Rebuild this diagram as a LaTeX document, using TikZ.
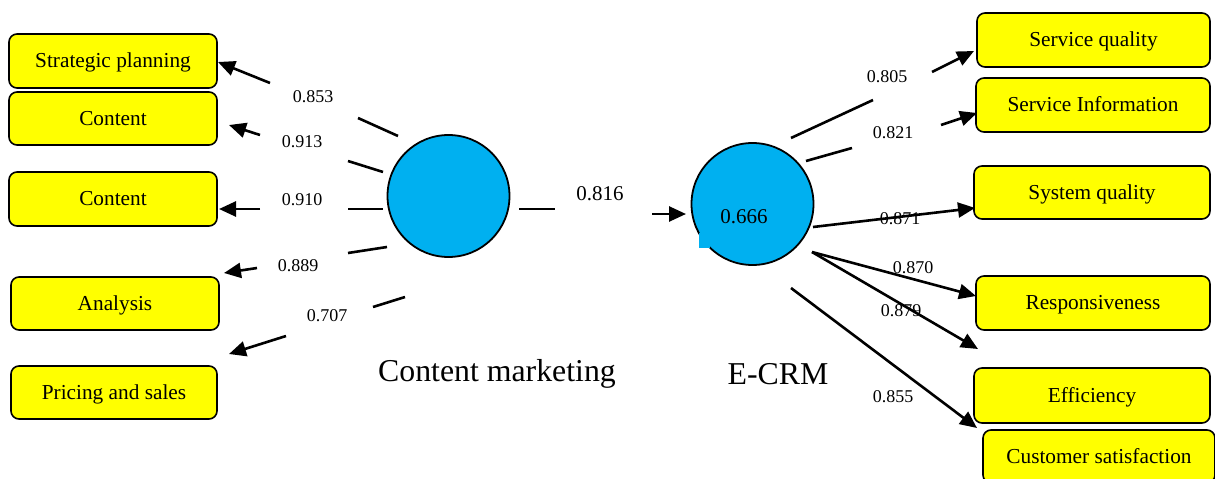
\documentclass[tikz,border=0pt]{standalone}
\usepackage{fontspec}
\setmainfont{Liberation Serif}
\usetikzlibrary{arrows.meta}
\definecolor{boxyellow}{RGB}{255,255,0}
\definecolor{circblue}{RGB}{0,176,240}
\begin{document}
\begin{tikzpicture}[x=1pt,y=-1pt,
 box/.style={draw=black, line width=1.6pt, fill=boxyellow, rounded corners=8pt, inner sep=0pt, text height=14.5pt, text depth=1pt, font=\fontsize{21.3}{25}\selectfont},
 lv/.style={circle, draw=black, line width=1.8pt, fill=circblue, inner sep=0pt, minimum size=122pt},
 wt/.style={font=\fontsize{18}{22}\selectfont, inner sep=0pt},
 midwt/.style={font=\fontsize{21}{25}\selectfont, inner sep=0pt},
 big/.style={font=\fontsize{31.8}{36}\selectfont, inner sep=0pt},
 ln/.style={line width=2.6pt},
 arr/.style={line width=2.6pt, -{Triangle[length=17pt,width=15pt]}}]
\clip (0,0) rectangle (1215,479);
\fill[white] (0,0) rectangle (1215,479);

% left boxes
\node[box, minimum width=208pt, minimum height=54pt] (sp) at (113,61) {Strategic planning};
\node[box, minimum width=208pt, minimum height=53pt] (c1) at (113,118.5) {Content};
\node[box, minimum width=208pt, minimum height=54pt] (c2) at (113,199) {Content};
\node[box, minimum width=208pt, minimum height=53pt] (an) at (115,303.5) {Analysis};
\node[box, minimum width=206pt, minimum height=53pt] (ps) at (114,392.5) {Pricing and sales};

% right boxes
\node[box, minimum width=233pt, minimum height=54pt] (sq) at (1093.5,40) {Service quality};
\node[box, minimum width=234pt, minimum height=54pt] (si) at (1093,105) {Service Information};
\node[box, minimum width=236pt, minimum height=53pt] (sys) at (1092,192.5) {System quality};
\node[box, minimum width=234pt, minimum height=54pt] (resp) at (1093,303) {Responsiveness};
\node[box, minimum width=236pt, minimum height=55pt] (eff) at (1092,395.5) {Efficiency};
\node[box, minimum width=232pt, minimum height=53pt] (cs) at (1099,456.5) {Customer satisfaction};

% latent variables
\node[lv] (cm) at (448.5,196) {};
\node[lv] (ecrm) at (752.5,204) {};
\fill[circblue] (699,233) rectangle (710,248);
\node[midwt] (r2) at (744,217) {0.666};
\node[big] (cmlab) at (497,374) {Content marketing};
\node[big] (ecrmlab) at (778,374) {E-CRM};

% structural path
\coordinate (p1a) at (519,209);
\coordinate (p1b) at (555,209);
\coordinate (p2a) at (652,214);
\coordinate (p2b) at (686,214);
\draw[ln] (p1a) -- (p1b);
\draw[arr] (p2a) -- (p2b);
\node[midwt] (w816) at (600,194) {0.816};

% left loadings
\coordinate (a1s) at (398,136); \coordinate (a1m) at (358,118);
\coordinate (a1n) at (270,83);  \coordinate (a1t) at (218,62);
\draw[ln] (a1s) -- (a1m); \draw[arr] (a1n) -- (a1t);
\node[wt] (w853) at (313,97) {0.853};

\coordinate (a2s) at (383,172); \coordinate (a2m) at (348,161);
\coordinate (a2n) at (260,135); \coordinate (a2t) at (229,125);
\draw[ln] (a2s) -- (a2m); \draw[arr] (a2n) -- (a2t);
\node[wt] (w913) at (302,142) {0.913};

\coordinate (a3s) at (383,209); \coordinate (a3m) at (348,209);
\coordinate (a3n) at (260,209); \coordinate (a3t) at (219,209);
\draw[ln] (a3s) -- (a3m); \draw[arr] (a3n) -- (a3t);
\node[wt] (w910) at (302,200) {0.910};

\coordinate (a4s) at (387,247); \coordinate (a4m) at (348,253);
\coordinate (a4n) at (257,268); \coordinate (a4t) at (224,273);
\draw[ln] (a4s) -- (a4m); \draw[arr] (a4n) -- (a4t);
\node[wt] (w889) at (298,266) {0.889};

\coordinate (a5s) at (405,297); \coordinate (a5m) at (373,307);
\coordinate (a5n) at (286,336); \coordinate (a5t) at (229,354);
\draw[ln] (a5s) -- (a5m); \draw[arr] (a5n) -- (a5t);
\node[wt] (w707) at (327,316) {0.707};

% right loadings
\coordinate (b1s) at (791,138); \coordinate (b1m) at (873,100);
\coordinate (b1n) at (932,72);  \coordinate (b1t) at (974,51);
\draw[ln] (b1s) -- (b1m); \draw[arr] (b1n) -- (b1t);
\node[wt] (w805) at (887,77) {0.805};

\coordinate (b2s) at (806,161); \coordinate (b2m) at (852,148);
\coordinate (b2n) at (941,125); \coordinate (b2t) at (977,113);
\draw[ln] (b2s) -- (b2m); \draw[arr] (b2n) -- (b2t);
\node[wt] (w821) at (893,133) {0.821};

\coordinate (b3s) at (813,227); \coordinate (b3t) at (975,208);
\draw[arr] (b3s) -- (b3t);
\node[wt] (w871) at (900,219) {0.871};

\coordinate (b4s) at (812,252); \coordinate (b4t) at (976,296);
\draw[arr] (b4s) -- (b4t);
\node[wt] (w870) at (913,268) {0.870};

\coordinate (b5t) at (978,349);
\draw[arr] (b4s) -- (b5t);
\node[wt] (w879) at (901,311) {0.879};

\coordinate (b6s) at (791,288); \coordinate (b6t) at (977,428);
\draw[arr] (b6s) -- (b6t);
\node[wt] (w855) at (893,397) {0.855};
\end{tikzpicture}
\end{document}
